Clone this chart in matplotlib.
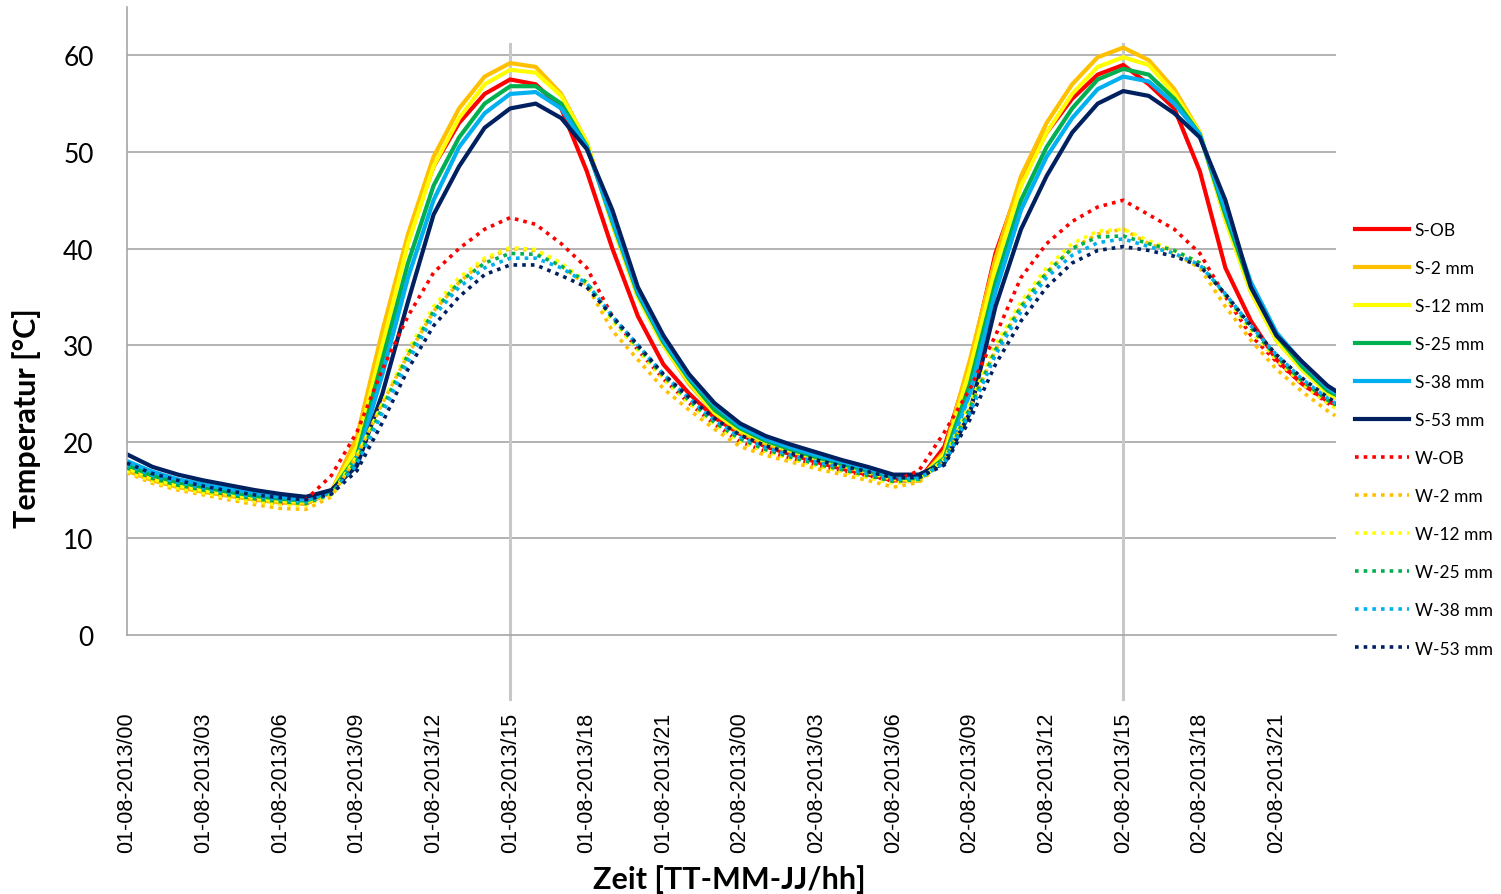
import matplotlib
matplotlib.use("Agg")
import matplotlib.pyplot as plt
import numpy as np

plt.rcParams['font.family'] = ['Lato', 'DejaVu Sans']

# hours since 01-08-2013 00:00
hours = list(range(48)) + [47.3]

s_ob = [17.2, 16.2, 15.5, 15.0, 14.5, 14.1, 13.8, 13.6, 14.8, 20.0, 31.0, 41.0, 48.5, 53.0, 56.0, 57.5,
        57.0, 54.5, 48.0, 40.0, 33.0, 28.0, 25.0, 22.5, 20.8, 19.5, 18.7, 17.9, 17.2, 16.6, 16.0, 16.0,
        19.5, 28.0, 39.5, 47.0, 52.0, 55.5, 58.0, 59.0, 57.0, 54.5, 48.0, 38.0, 32.5, 28.5, 26.0, 24.2, 23.9]
s_2 = [17.0, 16.0, 15.3, 14.8, 14.4, 14.0, 13.7, 13.6, 14.8, 20.5, 31.5, 41.5, 49.5, 54.5, 57.8, 59.2,
       58.8, 56.0, 51.0, 42.5, 35.0, 30.0, 26.0, 23.0, 21.0, 19.8, 19.0, 18.2, 17.5, 16.8, 16.1, 16.0,
       19.0, 28.5, 39.0, 47.5, 53.0, 57.0, 59.8, 60.8, 59.5, 56.5, 52.0, 43.0, 35.5, 30.5, 27.5, 25.0, 24.6]
s_12 = [17.3, 16.2, 15.5, 15.0, 14.6, 14.2, 13.9, 13.8, 14.8, 19.5, 30.0, 40.5, 48.5, 53.5, 57.0, 58.5,
        58.2, 55.8, 51.0, 42.5, 35.0, 30.0, 26.2, 23.0, 21.2, 20.0, 19.1, 18.3, 17.6, 16.9, 16.2, 16.1,
        18.7, 27.5, 38.0, 46.5, 52.0, 56.0, 58.8, 59.8, 59.0, 56.0, 52.0, 43.0, 35.5, 30.5, 27.5, 25.0, 24.6]
s_25 = [17.6, 16.5, 15.8, 15.3, 14.8, 14.4, 14.1, 13.9, 14.8, 18.5, 28.5, 38.5, 46.5, 51.5, 55.0, 56.8,
        56.8, 55.0, 50.6, 42.8, 35.3, 30.3, 26.5, 23.3, 21.4, 20.1, 19.2, 18.4, 17.7, 17.0, 16.3, 16.2,
        18.3, 26.0, 36.5, 45.0, 50.5, 54.5, 57.5, 58.6, 58.0, 55.5, 51.8, 43.5, 36.0, 31.0, 27.8, 25.3, 24.9]
s_38 = [18.0, 16.9, 16.1, 15.6, 15.1, 14.7, 14.3, 14.0, 14.8, 18.0, 27.0, 37.0, 45.0, 50.5, 54.0, 56.0,
        56.2, 54.5, 50.5, 43.0, 35.5, 30.5, 26.7, 23.8, 21.6, 20.3, 19.4, 18.6, 17.9, 17.2, 16.5, 16.4,
        18.0, 25.0, 35.5, 44.0, 49.5, 53.5, 56.5, 57.8, 57.3, 55.0, 51.8, 44.0, 36.5, 31.3, 28.2, 25.6, 25.1]
s_53 = [18.7, 17.4, 16.6, 16.0, 15.5, 15.0, 14.6, 14.3, 15.0, 17.5, 25.0, 34.5, 43.5, 48.5, 52.5, 54.5,
        55.0, 53.5, 50.3, 44.0, 36.0, 31.0, 27.0, 24.0, 21.9, 20.6, 19.7, 18.9, 18.1, 17.4, 16.6, 16.6,
        17.8, 23.0, 34.0, 42.0, 47.5, 52.0, 55.0, 56.3, 55.8, 54.0, 51.5, 45.0, 36.0, 31.0, 28.3, 25.8, 25.3]

w_ob = [17.0, 16.0, 15.3, 14.8, 14.3, 13.9, 13.6, 14.0, 16.5, 21.0, 27.5, 33.0, 37.5, 40.0, 42.0, 43.2,
        42.5, 40.5, 38.0, 33.0, 29.5, 26.5, 24.0, 21.8, 20.0, 19.0, 18.3, 17.6, 17.0, 16.5, 15.9, 17.0,
        21.0, 25.5, 31.0, 37.0, 40.5, 42.8, 44.3, 45.0, 43.5, 42.0, 39.5, 35.0, 31.0, 28.3, 26.0, 24.0, 23.6]
w_2 = [16.8, 15.7, 15.0, 14.5, 14.0, 13.5, 13.1, 13.0, 14.3, 18.5, 24.0, 29.0, 33.5, 36.5, 38.8, 40.0,
       39.8, 38.2, 36.2, 31.5, 28.5, 25.5, 23.3, 21.3, 19.5, 18.6, 17.9, 17.2, 16.6, 16.0, 15.3, 15.8,
       18.0, 23.5, 29.5, 34.0, 37.5, 40.0, 41.5, 42.0, 40.5, 39.5, 38.0, 34.0, 30.5, 27.5, 25.2, 23.2, 22.7]
w_12 = [17.0, 15.9, 15.2, 14.7, 14.2, 13.8, 13.5, 13.4, 14.5, 18.5, 24.0, 29.5, 34.0, 37.0, 39.0, 40.1,
        39.9, 38.5, 36.5, 32.5, 29.5, 26.5, 24.0, 21.8, 20.0, 19.0, 18.2, 17.5, 16.9, 16.3, 15.7, 16.0,
        18.2, 24.0, 30.0, 34.5, 38.0, 40.5, 41.8, 42.0, 40.8, 39.8, 38.5, 35.0, 31.5, 28.5, 26.0, 24.0, 23.5]
w_25 = [17.3, 16.2, 15.5, 15.0, 14.5, 14.1, 13.8, 13.6, 14.6, 18.0, 23.5, 29.0, 33.5, 36.5, 38.5, 39.5,
        39.4, 38.2, 36.5, 32.8, 29.8, 26.8, 24.3, 22.0, 20.3, 19.2, 18.4, 17.7, 17.1, 16.5, 15.9, 16.1,
        18.0, 23.5, 29.5, 34.0, 37.5, 40.0, 41.2, 41.3, 40.5, 39.8, 38.5, 35.2, 31.8, 28.8, 26.3, 24.3, 23.8]
w_38 = [17.6, 16.5, 15.8, 15.2, 14.7, 14.3, 14.0, 13.8, 14.6, 17.6, 23.0, 28.3, 33.0, 36.0, 38.0, 39.0,
        39.0, 38.0, 36.4, 33.0, 30.0, 27.0, 24.5, 22.2, 20.5, 19.4, 18.6, 17.9, 17.3, 16.7, 16.1, 16.2,
        17.8, 23.0, 29.0, 33.5, 37.0, 39.3, 40.6, 41.0, 40.2, 39.5, 38.3, 35.3, 32.0, 29.0, 26.5, 24.5, 24.0]
w_53 = [17.8, 16.7, 16.0, 15.4, 14.9, 14.5, 14.2, 14.0, 14.6, 17.0, 22.0, 27.5, 32.0, 35.0, 37.3, 38.3,
        38.3, 37.2, 36.0, 33.0, 30.0, 27.0, 24.6, 22.4, 20.7, 19.6, 18.8, 18.1, 17.5, 16.9, 16.3, 16.3,
        17.6, 22.3, 28.0, 32.5, 36.0, 38.5, 39.8, 40.2, 39.8, 39.2, 38.2, 35.3, 32.0, 29.0, 26.6, 24.6, 24.1]

names = ['OB', '2 mm', '12 mm', '25 mm', '38 mm', '53 mm']
colors = ['#FF0000', '#FFC000', '#FFFF00', '#00B050', '#00B0F0', '#002060']
s_series = [s_ob, s_2, s_12, s_25, s_38, s_53]
w_series = [w_ob, w_2, w_12, w_25, w_38, w_53]

tick_hours = list(range(0, 48, 3))
tick_labels = [f"{'01' if h < 24 else '02'}-08-2013/{h % 24:02d}" for h in tick_hours]
marker_hours = [15, 39]

fig = plt.figure(figsize=(15.01, 8.95), dpi=100)
ax = fig.add_axes([127 / 1501, 1 - 636 / 895, (1336 - 127) / 1501, (636 - 8) / 895])

for y in range(10, 61, 10):
    ax.axhline(y, color='#A6A6A6', lw=1.2, zorder=0)
for h in marker_hours:
    ax.plot([h, h], [-6.6, 61.2], color='#C8C8C8', lw=2.2, clip_on=False, zorder=0.5)

for n, c, vals in zip(names, colors, s_series):
    ax.plot(hours, vals, color=c, lw=3, label=f'S-{n}', zorder=2)
for n, c, vals in zip(names, colors, w_series):
    ax.plot(hours, vals, color=c, lw=2.6, ls=(0, (1, 1.4)), label=f'W-{n}', zorder=3)

ax.set_xlim(0, 47.33)
ax.set_ylim(0, 65)
ax.set_yticks(range(0, 61, 10))
ax.set_xticks(tick_hours)
ax.set_xticklabels(tick_labels, rotation=90, family='Liberation Sans', fontsize=15.5)
ax.tick_params(axis='x', length=0, pad=55)
ax.tick_params(axis='y', length=0, pad=24, labelsize=19)
for s in ['top', 'right']:
    ax.spines[s].set_visible(False)
for s in ['left', 'bottom']:
    ax.spines[s].set_color('#A6A6A6')
    ax.spines[s].set_linewidth(1.2)

fig.text(27 / 1501, 1 - 418 / 895, 'Temperatur [°C]', fontsize=22, fontweight='bold',
         rotation=90, ha='center', va='center')
fig.text(729 / 1501, 1 - 880 / 895, 'Zeit [TT-MM-JJ/hh]', fontsize=22, fontweight='bold',
         ha='center', va='center')

fig.legend(loc='upper left', bbox_to_anchor=(1355 / 1501, 1 - 223 / 895), frameon=False,
           fontsize=12.5, handlelength=3.1, handletextpad=0.35, labelspacing=1.27, borderpad=0,
           borderaxespad=0)

fig.savefig('out.png', dpi=100)
